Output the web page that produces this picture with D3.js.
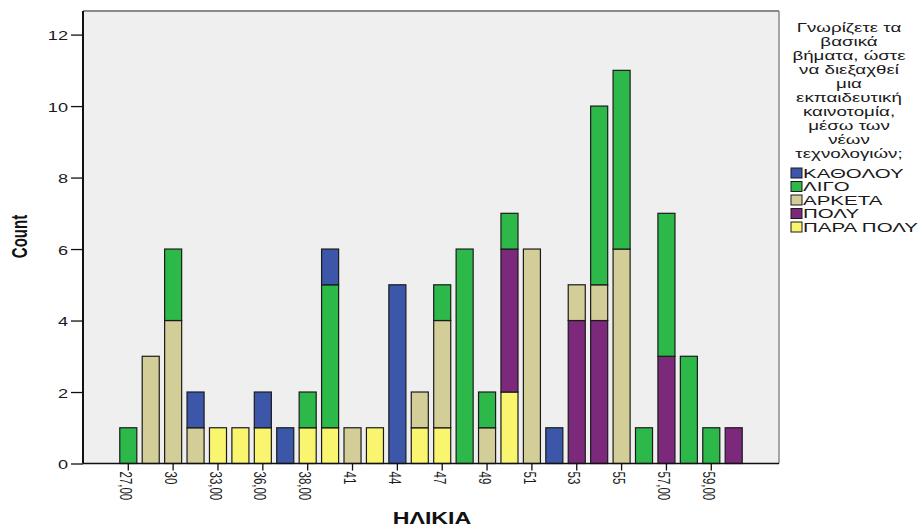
<!DOCTYPE html>
<html>
<head>
<meta charset="utf-8">
<script src="https://cdn.jsdelivr.net/npm/d3@7"></script>
<style>
  html, body { margin: 0; padding: 0; background: #ffffff; }
  svg { display: block; font-family: "Liberation Sans", Arial, sans-serif; }
</style>
</head>
<body>
<svg id="chart" width="922" height="529"></svg>
<script>
// ---- data ----
const categories = ["27,00","28","30","32","33,00","35","36,00","37","38,00","40","41","43","44","46","47","48","49","50","51","52","53","54","55","56","57,00","58","59,00","60"];
const shownTickLabels = ["27,00","30","33,00","36,00","38,00","41","44","47","49","51","53","55","57,00","59,00"];
const yTicks = [0, 2, 4, 6, 8, 10, 12];

const seriesKeys   = ["ΚΑΘΟΛΟΥ", "ΛΙΓΟ", "ΑΡΚΕΤΑ", "ΠΟΛΥ", "ΠΑΡΑ ΠΟΛΥ"];
const seriesColors = ["#3C56AA", "#2DB84A", "#D3CE98", "#7C297C", "#FAF56E"];

const kathOlou = [0,0,0,1,0,0,1,1,0,1,0,0,5,0,0,0,0,0,0,1,0,0,0,0,0,0,0,0];
const ligo     = [1,0,2,0,0,0,0,0,1,4,0,0,0,0,1,6,1,1,0,0,0,5,5,1,4,3,1,0];
const arketa   = [0,3,4,1,0,0,0,0,0,0,1,0,0,1,3,0,1,0,6,0,1,1,6,0,0,0,0,0];
const poly     = [0,0,0,0,0,0,0,0,0,0,0,0,0,0,0,0,0,4,0,0,4,4,0,0,3,0,0,1];
const paraPoly = [0,0,0,0,1,1,1,0,1,1,0,1,0,1,1,0,0,2,0,0,0,0,0,0,0,0,0,0];

const legendTitleLines = ["Γνωρίζετε τα","βασικά","βήματα, ώστε","να διεξαχθεί","μια","εκπαιδευτική","καινοτομία,","μέσω των","νέων","τεχνολογιών;"];
const xTitle = "ΗΛΙΚΙΑ";
const yTitle = "Count";

// ---- build table ----
const valuesByKey = {"ΚΑΘΟΛΟΥ": kathOlou, "ΛΙΓΟ": ligo, "ΑΡΚΕΤΑ": arketa, "ΠΟΛΥ": poly, "ΠΑΡΑ ΠΟΛΥ": paraPoly};
const table = categories.map((c, i) => {
  const row = {cat: c};
  seriesKeys.forEach(k => row[k] = valuesByKey[k][i]);
  return row;
});
const stackOrder = ["ΠΑΡΑ ΠΟΛΥ", "ΠΟΛΥ", "ΑΡΚΕΤΑ", "ΛΙΓΟ", "ΚΑΘΟΛΟΥ"];
const stacked = d3.stack().keys(stackOrder)(table);
const color = d3.scaleOrdinal().domain(seriesKeys).range(seriesColors);

// ---- layout ----
const plot = {left: 83, right: 779, top: 11, bottom: 463.5};
const SX = 1.45; // horizontal stretch of text in the reference

const svg = d3.select("#chart");

const x = d3.scaleBand().domain(categories)
  .range([plot.left, plot.right]).paddingInner(0.24).paddingOuter(1.64);
const y = d3.scaleLinear().domain([0, 12.66]).range([plot.bottom, plot.top]);

// background
svg.append("rect").attr("x", plot.left).attr("y", plot.top)
  .attr("width", plot.right - plot.left).attr("height", plot.bottom - plot.top)
  .attr("fill", "#EFEFEF");

// bars
svg.append("g").selectAll("g").data(stacked).join("g")
  .attr("fill", d => color(d.key))
  .selectAll("rect").data(d => d.filter(s => s[1] - s[0] > 0)).join("rect")
  .attr("x", d => x(d.data.cat))
  .attr("width", x.bandwidth())
  .attr("y", d => y(d[1]))
  .attr("height", d => y(d[0]) - y(d[1]))
  .attr("stroke", "#1b1b1b").attr("stroke-width", 1.2);

// frame: top and right gray
svg.append("line").attr("x1", plot.left).attr("x2", plot.right).attr("y1", plot.top).attr("y2", plot.top)
  .attr("stroke", "#8a8a8a").attr("stroke-width", 2);
svg.append("line").attr("x1", plot.right).attr("x2", plot.right).attr("y1", plot.top).attr("y2", plot.bottom)
  .attr("stroke", "#8a8a8a").attr("stroke-width", 1.5);

// y axis
const yAxis = svg.append("g").attr("transform", `translate(${plot.left},0)`)
  .call(d3.axisLeft(y).tickValues(yTicks).tickSize(12).tickPadding(3).tickFormat(d3.format("d")));
yAxis.select(".domain").remove();
yAxis.selectAll(".tick line").attr("stroke", "#111").attr("stroke-width", 1.3);
yAxis.selectAll(".tick text")
  .attr("fill", "#1a1a1a").attr("font-size", 12.5).attr("font-family", "Liberation Sans, Arial, sans-serif")
  .attr("x", 0).attr("dy", "0.42em")
  .attr("transform", `translate(-15,0) scale(${SX},1)`);

// x axis
const xAxis = svg.append("g").attr("transform", `translate(0,${plot.bottom})`)
  .call(d3.axisBottom(x).tickValues(shownTickLabels).tickSize(7).tickPadding(0));
xAxis.select(".domain").remove();
xAxis.selectAll(".tick line").attr("stroke", "#111").attr("stroke-width", 1.3);
xAxis.selectAll(".tick text")
  .attr("fill", "#1a1a1a").attr("font-size", 11.5).attr("font-family", "Liberation Sans, Arial, sans-serif")
  .attr("x", 0).attr("y", 0).attr("dy", "0.5em")
  .attr("text-anchor", "start")
  .attr("transform", `translate(0,8) scale(${SX},1) rotate(90)`);

// axis lines (black)
svg.append("line").attr("x1", plot.left).attr("x2", plot.left).attr("y1", plot.top).attr("y2", plot.bottom)
  .attr("stroke", "#111").attr("stroke-width", 2);
svg.append("line").attr("x1", plot.left).attr("x2", plot.right).attr("y1", plot.bottom).attr("y2", plot.bottom)
  .attr("stroke", "#111").attr("stroke-width", 1.6);

// axis titles
svg.append("text").text(xTitle)
  .attr("transform", `translate(432,524.3) scale(${SX},1)`)
  .attr("text-anchor", "middle").attr("font-weight", "bold").attr("font-size", 16).attr("fill", "#111");
svg.append("text").text(yTitle)
  .attr("transform", `translate(27,236.5) scale(${SX},1) rotate(-90)`)
  .attr("text-anchor", "middle").attr("font-weight", "bold").attr("font-size", 15).attr("fill", "#111");

// legend
const lg = svg.append("g");
lg.selectAll("text.title").data(legendTitleLines).join("text").attr("class", "title")
  .text(d => d)
  .attr("transform", (d, i) => `translate(849,${31.5 + i * 14}) scale(1.5,1)`)
  .attr("text-anchor", "middle").attr("font-size", 12.5).attr("fill", "#1a1a1a");

const items = lg.selectAll("g.item").data(seriesKeys).join("g").attr("class", "item")
  .attr("transform", (d, i) => `translate(791,${173 + i * 13.5})`);
items.append("rect").attr("x", 0).attr("y", -5).attr("width", 11).attr("height", 10)
  .attr("fill", d => color(d)).attr("stroke", "#1b1b1b").attr("stroke-width", 1);
items.append("text").text(d => d)
  .attr("transform", `translate(12,4.5) scale(1.64,1)`)
  .attr("font-size", 12.5).attr("fill", "#1a1a1a");
</script>
</body>
</html>
